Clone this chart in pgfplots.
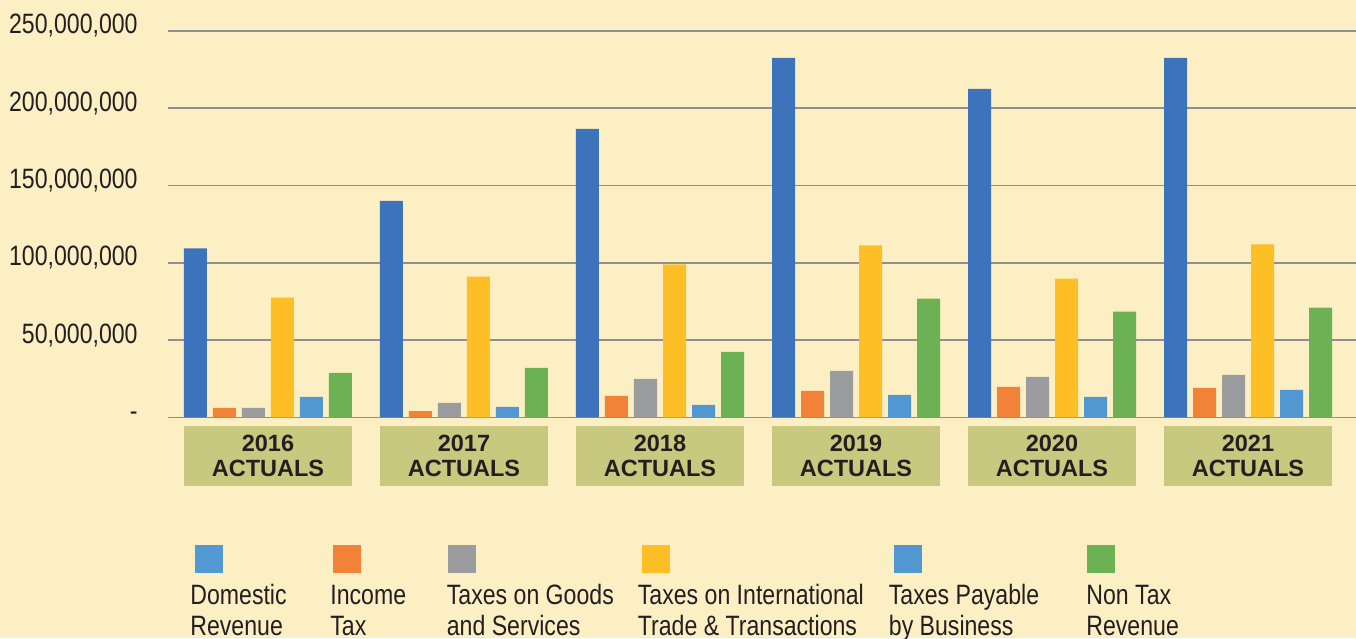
\documentclass[border=0pt]{standalone}
\usepackage{fontspec}
\setmainfont{Liberation Sans}
\newfontfamily\narrow{Liberation Sans}[FakeStretch=0.825]
\usepackage{pgfplots}
\pgfplotsset{compat=1.18}
\definecolor{bg}{HTML}{FDEFC4}
\definecolor{boxc}{HTML}{C8C87F}
\definecolor{gridc}{HTML}{8F8F8F}
\definecolor{txt}{HTML}{231F20}
\definecolor{cdom}{HTML}{3D73BA}
\definecolor{cdoml}{HTML}{5399D3}
\definecolor{cinc}{HTML}{F28238}
\definecolor{cgds}{HTML}{9A9C9D}
\definecolor{cint}{HTML}{FEBE25}
\definecolor{cbus}{HTML}{5198D2}
\definecolor{cnon}{HTML}{6DB155}
\newcommand\legfont{\narrow\fontsize{14}{15}\selectfont\color{txt}}
\begin{document}
\begin{tikzpicture}
\useasboundingbox (0,0) rectangle (678pt,319pt);
\fill[bg] (0,0) rectangle (678pt,319pt);
\begin{axis}[
  at={(84pt,110.25pt)}, anchor=south west,
  width=594pt, height=193.25pt, scale only axis,
  xmin=-0.5102, xmax=5.551, ymin=0, ymax=250,
  ybar=3pt, bar width=11.5pt,
  axis line style={draw=none},
  major tick length=0pt,
  ymajorgrids, major grid style={color=gridc, line width=0.9pt},
  ytick={0,50,100,150,200,250},
  yticklabels={{-},{50,000,000},{100,000,000},{150,000,000},{200,000,000},{250,000,000}},
  scaled y ticks=false,
  yticklabel style={anchor=base east, inner sep=0pt, xshift=-15pt, yshift=-1.5pt, font=\legfont},
  xtick={0,1,2,3,4,5},
  xticklabels={{2016\\ACTUALS},{2017\\ACTUALS},{2018\\ACTUALS},{2019\\ACTUALS},{2020\\ACTUALS},{2021\\ACTUALS}},
  xticklabel style={anchor=north, yshift=-4.25pt, inner sep=0pt, fill=boxc, minimum width=84pt, minimum height=30pt, align=center, text=txt, font=\bfseries\fontsize{11.75}{12.5}\selectfont},
  every axis plot/.append style={draw=none},
]
\addplot[fill=cdom] coordinates {(0,109.4) (1,140.2) (2,186.7) (3,232.6) (4,212.5) (5,232.6)};
\addplot[fill=cinc] coordinates {(0,6.2) (1,4.2) (2,14.0) (3,17.2) (4,19.8) (5,19.2)};
\addplot[fill=cgds] coordinates {(0,6.2) (1,9.4) (2,25.0) (3,30.2) (4,26.3) (5,27.6)};
\addplot[fill=cint] coordinates {(0,77.6) (1,91.2) (2,99.0) (3,111.4) (4,89.9) (5,112.0)};
\addplot[fill=cbus] coordinates {(0,13.3) (1,6.8) (2,8.1) (3,14.6) (4,13.3) (5,17.9)};
\addplot[fill=cnon] coordinates {(0,28.9) (1,32.1) (2,42.5) (3,76.9) (4,68.5) (5,71.1)};
\end{axis}
% legend
\fill[cdoml] (97.5pt,32.5pt) rectangle ++(14pt,14pt);
\fill[cinc] (166.5pt,32.5pt) rectangle ++(14pt,14pt);
\fill[cgds] (224pt,32.5pt) rectangle ++(14pt,14pt);
\fill[cint] (321pt,32.5pt) rectangle ++(14pt,14pt);
\fill[cbus] (447pt,32.5pt) rectangle ++(14pt,14pt);
\fill[cnon] (543.5pt,32.5pt) rectangle ++(14pt,14pt);
\begin{scope}[every node/.style={anchor=base west, inner sep=0pt, font=\legfont}]
\node at (95pt,16.5pt) {Domestic};
\node at (95pt,1.5pt) {Revenue};
\node at (165pt,16.5pt) {Income};
\node at (165pt,1.5pt) {Tax};
\node at (223.25pt,16.5pt) {Taxes on Goods};
\node at (223.25pt,1.5pt) {and Services};
\node at (318.75pt,16.5pt) {Taxes on International};
\node at (318.75pt,1.5pt) {Trade \& Transactions};
\node at (444.25pt,16.5pt) {Taxes Payable};
\node at (444.25pt,1.5pt) {by Business};
\node at (543pt,16.5pt) {Non Tax};
\node at (543pt,1.5pt) {Revenue};
\end{scope}
\end{tikzpicture}
\end{document}
